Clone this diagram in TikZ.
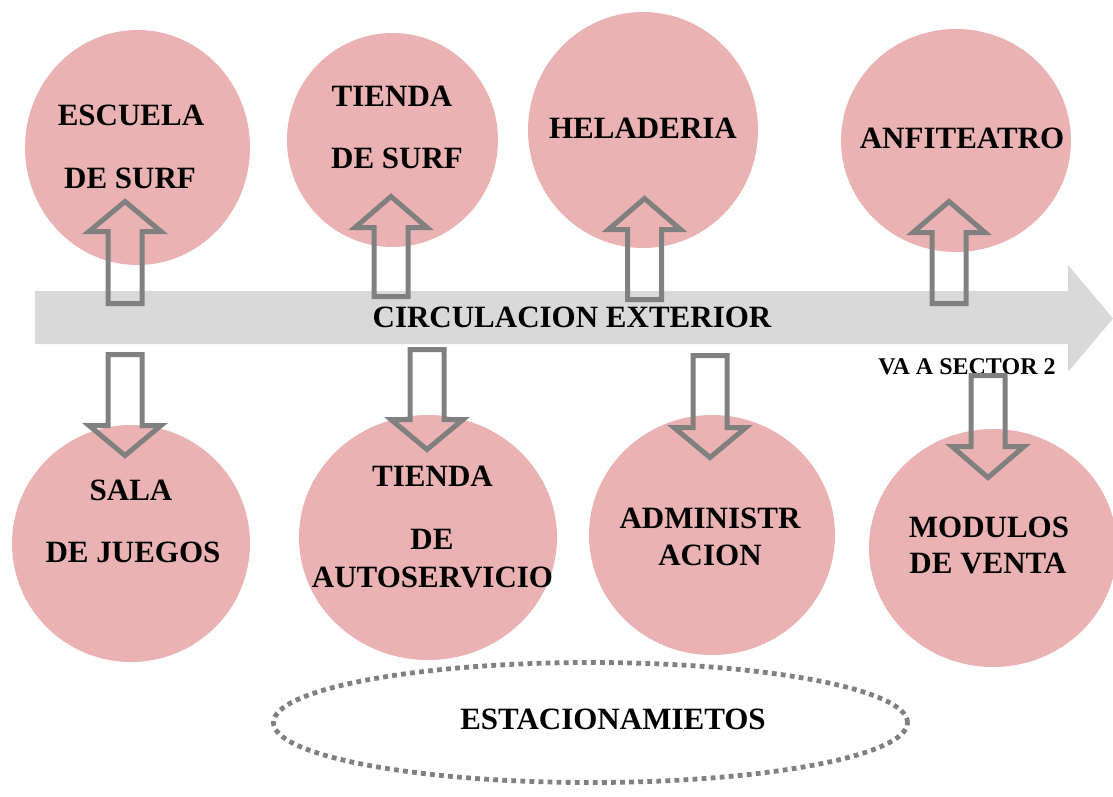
\documentclass[tikz,border=0pt]{standalone}
\usepackage{fontspec}
\setmainfont{Liberation Serif}
\usetikzlibrary{shapes.geometric}
\definecolor{pinkc}{RGB}{234,178,178}
\definecolor{bandc}{RGB}{217,217,217}
\definecolor{arrc}{RGB}{128,128,128}
\newcommand\blockarr[4]{%
  \draw[blockarrow] ({#1},{#2}) -- ({#1+36},{#3}) -- ({#1+17},{#3}) -- ({#1+17},{#4})
    -- ({#1-17},{#4}) -- ({#1-17},{#3}) -- ({#1-36},{#3}) -- cycle;}
\begin{document}
\begin{tikzpicture}[x=0.75pt,y=-0.75pt,
  area/.style={ellipse, fill=pinkc, draw=none, inner sep=0pt},
  lbl/.style={anchor=base, font=\fontsize{23.25}{28}\selectfont\bfseries, inner sep=0pt},
  smalllbl/.style={anchor=base, font=\fontsize{18}{22}\selectfont\bfseries, inner sep=0pt},
  blockarrow/.style={draw=arrc, line width=3.75pt, miter limit=10},
  parkline/.style={draw=arrc, line width=3.6pt, dash pattern=on 3.6pt off 3.2pt}]
\useasboundingbox (0,0) rectangle (1113,796);

% circles
\node[area, minimum width=168.75pt, minimum height=176.25pt] (c1) at (137.5,147.5) {};
\node[area, minimum width=158.25pt, minimum height=160.5pt] (c2) at (392.5,140) {};
\node[area, minimum width=172.5pt, minimum height=177pt] (c3) at (643,130) {};
\node[area, minimum width=172.5pt, minimum height=167.25pt] (c4) at (956,140.5) {};
\node[area, minimum width=178.5pt, minimum height=177.75pt] (c5) at (131,543.5) {};
\node[area, minimum width=193.5pt, minimum height=183.75pt] (c6) at (428,537.5) {};
\node[area, minimum width=184.5pt, minimum height=180pt] (c7) at (712,535) {};
\node[area, minimum width=186pt, minimum height=178.5pt] (c8) at (993,548) {};

% band arrow
\fill[bandc] (35,291) -- (1068,291) -- (1068,265) -- (1113,318.5) -- (1068,372) -- (1068,344) -- (35,344) -- cycle;
\node[lbl] (circ) at (572,327) {CIRCULACION EXTERIOR};
\node[smalllbl] (va) at (967,374) {VA A SECTOR 2};

% labels
\node[lbl] (t1a) at (131,125) {ESCUELA};
\node[lbl] (t1b) at (130,188) {DE SURF};
\node[lbl] (t2a) at (392,106) {TIENDA};
\node[lbl] (t2b) at (397,168) {DE SURF};
\node[lbl] (t3) at (643,138) {HELADERIA};
\node[lbl] (t4) at (962,148) {ANFITEATRO};
\node[lbl] (t5a) at (131,500) {SALA};
\node[lbl] (t5b) at (133,562) {DE JUEGOS};
\node[lbl] (t6a) at (432.5,486) {TIENDA};
\node[lbl] (t6b) at (432,549) {DE};
\node[lbl] (t6c) at (432.5,587) {AUTOSERVICIO};
\node[lbl] (t7a) at (710,528) {ADMINISTR};
\node[lbl] (t7b) at (710,565) {ACION};
\node[lbl] (t8a) at (989,537) {MODULOS};
\node[lbl] (t8b) at (988,573) {DE VENTA};

% block arrows
\blockarr{125}{201.5}{231.5}{303.5}
\blockarr{391}{196.5}{227.5}{296.5}
\blockarr{644.5}{198.5}{229.5}{299.5}
\blockarr{949}{201.5}{232.5}{303.5}
\blockarr{125}{455.5}{425.5}{354.5}
\blockarr{427}{449.5}{419.5}{349.5}
\blockarr{710}{457.5}{427.5}{355.5}
\blockarr{988}{477.5}{446.5}{375.5}

% parking
\node[ellipse, parkline, minimum width=475.5pt, minimum height=90pt, inner sep=0pt] (park) at (590.5,722.5) {};
\node[lbl] (parkt) at (613,729) {ESTACIONAMIETOS};
\end{tikzpicture}
\end{document}
